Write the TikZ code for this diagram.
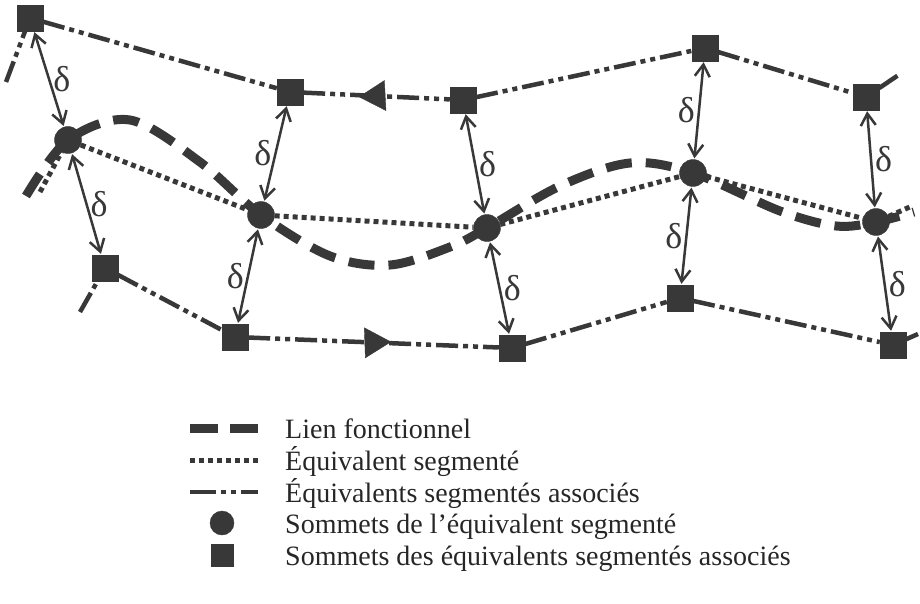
\documentclass[tikz,border=0pt]{standalone}
\usepackage{fontspec}
\setmainfont{Liberation Serif}
\usetikzlibrary{arrows.meta,shapes.geometric,backgrounds,calc}
\definecolor{ink}{HTML}{383838}
\tikzset{
  x=1pt, y=-1pt,
  assoc/.style={draw=ink, fill=ink, rectangle, minimum size=26pt, inner sep=0pt},
  vertex/.style={draw=ink, fill=ink, circle, minimum size=27pt, inner sep=0pt},
  assocline/.style={draw=ink, line width=4.5pt,
    dash pattern=on 22pt off 5pt on 5pt off 5pt on 5pt off 5pt},
  segline/.style={draw=ink, line width=5pt, dash pattern=on 5pt off 4pt},
  lienline/.style={draw=ink, line width=9pt, dash pattern=on 26pt off 14pt},
  dirmark/.style={isosceles triangle, fill=ink, draw=ink, inner sep=0pt,
    minimum height=26pt, minimum width=26pt, isosceles triangle apex angle=60},
  delta/.style={draw=ink, line width=2.5pt,
    {Straight Barb[length=12pt,width=15pt,line width=2.5pt]}-{Straight Barb[length=12pt,width=15pt,line width=2.5pt]},
    shorten <=1pt, shorten >=1pt},
  dlab/.style={font=\fontsize{36}{36}\selectfont, text=ink, inner sep=3pt},
  legtext/.style={font=\fontsize{28}{30}\selectfont, text=black!85, anchor=base west, inner sep=0pt}
}
\begin{document}
\begin{tikzpicture}
\useasboundingbox (0,0) rectangle (920,604);

% vertices of the associated segmented equivalents (upper row)
\node[assoc] (S1) at (30,18) {};
\node[assoc] (S2) at (290,92) {};
\node[assoc] (S3) at (463,100) {};
\node[assoc] (S4) at (705,48) {};
\node[assoc] (S5) at (866,97) {};
% vertices of the associated segmented equivalents (lower row)
\node[assoc] (B1) at (105,268) {};
\node[assoc] (B2) at (235,337) {};
\node[assoc] (B3) at (512,348) {};
\node[assoc] (B4) at (680,298) {};
\node[assoc] (B5) at (893,345) {};
% vertices of the segmented equivalent
\node[vertex] (C1) at (68,140) {};
\node[vertex] (C2) at (261,215) {};
\node[vertex] (C3) at (487,228) {};
\node[vertex] (C4) at (693,173) {};
\node[vertex] (C5) at (876,222) {};

% loose ends
\coordinate (s1end) at (6,82);
\coordinate (s5end) at (900,74);
\coordinate (b1end) at (80,312);
\coordinate (b5end) at (918,334);
\coordinate (c1end) at (40,192);
\coordinate (c5end) at (912,206);
\coordinate (l0) at (26,196);
\coordinate (l1) at (130,120);
\coordinate (l2) at (200,162);
\coordinate (l3) at (330,256);
\coordinate (l4) at (390,265);
\coordinate (l5) at (450,247);
\coordinate (l6) at (560,186);
\coordinate (l7) at (630,163);
\coordinate (l8) at (780,211);
\coordinate (l9) at (836,226);
\coordinate (l10) at (914,212);

\begin{pgfonlayer}{background}
  % functional link
  \draw[lienline] plot[smooth, tension=0.55] coordinates {(l0) (C1.center) (l1) (l2) (C2.center) (l3) (l4) (l5) (C3.center) (l6) (l7) (C4.center) (l8) (l9) (C5.center) (l10)};
  % segmented equivalent
  \draw[segline] (c1end) -- (C1) -- (C2) -- (C3) -- (C4) -- (C5) -- (c5end);
  % associated segmented equivalents
  \draw[assocline] (s1end) -- (S1) -- (S2) -- (S3) -- (S4) -- (S5) -- (s5end);
  \draw[assocline] (b1end) -- (B1) -- (B2) -- (B3) -- (B4) -- (B5) -- (b5end);
\end{pgfonlayer}

% direction marks
\node[dirmark, rotate=183] (T1) at ($(S2)!0.5!(S3)$) {};
\node[dirmark, rotate=2] (T2) at ($(B2)!0.5!(B3)$) {};

% distances
\draw[delta] (S1) -- (C1) node[dlab, midway, right] {δ};
\draw[delta] (C1) -- (B1) node[dlab, midway, right] {δ};
\draw[delta] (S2) -- (C2) node[dlab, midway, left] {δ};
\draw[delta] (C2) -- (B2) node[dlab, midway, left] {δ};
\draw[delta] (S3) -- (C3) node[dlab, midway, right] {δ};
\draw[delta] (C3) -- (B3) node[dlab, midway, right] {δ};
\draw[delta] (S4) -- (C4) node[dlab, midway, left] {δ};
\draw[delta] (C4) -- (B4) node[dlab, midway, left] {δ};
\draw[delta] (S5) -- (C5) node[dlab, midway, right] {δ};
\draw[delta] (C5) -- (B5) node[dlab, midway, right] {δ};

% legend
\coordinate (k1a) at (190,428); \coordinate (k1b) at (258,428);
\coordinate (k2a) at (190,460); \coordinate (k2b) at (258,460);
\coordinate (k3a) at (190,492); \coordinate (k3b) at (258,492);
\draw[lienline, dash pattern=on 28pt off 12pt] (k1a) -- (k1b);
\draw[segline] (k2a) -- (k2b);
\draw[assocline, dash pattern=on 26pt off 5pt on 5pt off 5pt on 5pt off 5pt] (k3a) -- (k3b);
\node[vertex, minimum size=24pt] (k4) at (222,523) {};
\node[assoc, minimum size=22pt] (k5) at (222,555) {};
\node[legtext] (t1) at (285,438) {Lien fonctionnel};
\node[legtext] (t2) at (285,470) {Équivalent segmenté};
\node[legtext] (t3) at (285,502) {Équivalents segmentés associés};
\node[legtext] (t4) at (285,533) {Sommets de l’équivalent segmenté};
\node[legtext] (t5) at (285,565) {Sommets des équivalents segmentés associés};
\end{tikzpicture}
\end{document}
